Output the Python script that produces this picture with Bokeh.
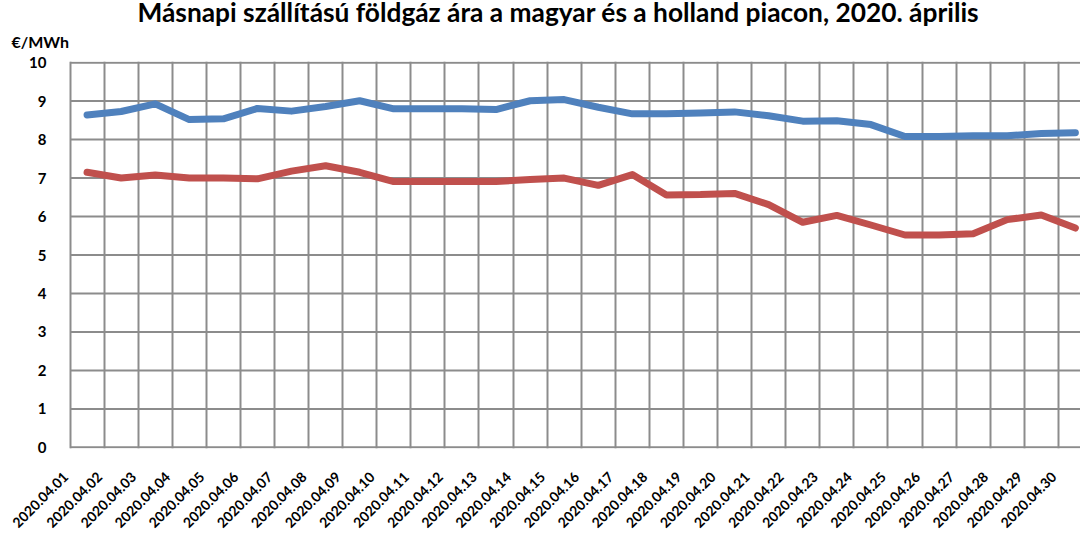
import math
from bokeh.plotting import figure
from bokeh.models import Range1d, FixedTicker, Title, Legend, LegendItem, ColumnDataSource
from bokeh.embed import file_html
from bokeh.resources import INLINE

days = ["2020.04.01", "2020.04.02", "2020.04.03", "2020.04.04", "2020.04.05",
        "2020.04.06", "2020.04.07", "2020.04.08", "2020.04.09", "2020.04.10",
        "2020.04.11", "2020.04.12", "2020.04.13", "2020.04.14", "2020.04.15",
        "2020.04.16", "2020.04.17", "2020.04.18", "2020.04.19", "2020.04.20",
        "2020.04.21", "2020.04.22", "2020.04.23", "2020.04.24", "2020.04.25",
        "2020.04.26", "2020.04.27", "2020.04.28", "2020.04.29", "2020.04.30"]

ceegex = [8.64, 8.73, 8.93, 8.52, 8.54, 8.81, 8.74, 8.86, 9.01, 8.80,
          8.80, 8.80, 8.78, 9.01, 9.04, 8.84, 8.67, 8.67, 8.69, 8.72,
          8.62, 8.48, 8.49, 8.39, 8.08, 8.08, 8.10, 8.10, 8.16, 8.18]

ttf = [7.15, 7.00, 7.08, 7.00, 7.00, 6.98, 7.18, 7.32, 7.15, 6.91,
       6.91, 6.91, 6.91, 6.96, 7.00, 6.81, 7.09, 6.56, 6.57, 6.60,
       6.31, 5.85, 6.03, 5.78, 5.52, 5.52, 5.55, 5.92, 6.04, 5.70]

y_ticks = [0, 1, 2, 3, 4, 5, 6, 7, 8, 9, 10]

title_text = "Másnapi szállítású földgáz ára a magyar és a holland piacon, 2020. április"
unit_text = "€/MWh"
name_ceegex = "Hazai másnapi piaci átlagár (CEEGEX)"
name_ttf = "Holland másnapi piaci átlagár (TTF)"

FONT = "Lato"
GRID = "#8c8c8c"
BLUE = "#4f81bd"
RED = "#c0504d"

idx = list(range(len(days)))
src = ColumnDataSource(dict(x=idx, a=ceegex, b=ttf))

X0, X1 = -0.75, 29.15
p = figure(frame_width=1019, frame_height=387, output_backend="svg",
           toolbar_location=None,
           x_range=Range1d(X0, X1), y_range=Range1d(-0.03, 10.03),
           min_border_left=61, min_border_right=0, min_border_top=61,
           min_border_bottom=0)
p.outline_line_color = None
p.background_fill_color = "white"
p.border_fill_color = "white"

# plot-area grid: vertical category boundaries + horizontal value lines
p.xgrid.ticker = FixedTicker(ticks=[i - 0.5 for i in idx] + [idx[-1] + 0.5])
p.xgrid.grid_line_color = GRID
p.xgrid.grid_line_width = 2
p.ygrid.grid_line_color = None
p.segment(x0=[-0.5] * len(y_ticks), x1=[X1 + 1] * len(y_ticks),
          y0=y_ticks, y1=y_ticks, line_color=GRID, line_width=2)

r1 = p.line("x", "a", source=src, line_color=BLUE, line_width=7,
            line_cap="round", line_join="round")
r2 = p.line("x", "b", source=src, line_color=RED, line_width=7,
            line_cap="round", line_join="round")

# x axis: rotated labels whose upper-right end sits at the category centre
shift = 0.63
label_pos = [round(i - shift, 2) for i in idx]
xa = p.xaxis[0]
xa.ticker = FixedTicker(ticks=label_pos)
xa.major_label_overrides = {pos: d for pos, d in zip(label_pos, days)}
xa.major_label_orientation = math.pi / 4
xa.major_label_text_font = FONT
xa.major_label_text_font_style = "bold"
xa.major_label_text_font_size = "14px"
xa.major_label_text_color = "black"
xa.major_tick_line_color = None
xa.minor_tick_line_color = None
xa.axis_line_color = None
xa.major_label_standoff = 20

ya = p.yaxis[0]
ya.ticker = FixedTicker(ticks=y_ticks)
ya.major_label_text_font = FONT
ya.major_label_text_font_style = "bold"
ya.major_label_text_font_size = "15px"
ya.major_label_text_color = "black"
ya.major_tick_line_color = None
ya.minor_tick_line_color = None
ya.axis_line_color = None
ya.major_label_standoff = 9

p.add_layout(Title(text=unit_text, align="left", offset=-50, standoff=21,
                   text_font=FONT, text_font_style="bold", text_font_size="16px",
                   text_color="black"), "above")
p.add_layout(Title(text=title_text, align="left", offset=76, standoff=-16,
                   text_font=FONT, text_font_style="bold", text_font_size="26.3px",
                   text_color="black"), "above")

legend = Legend(items=[LegendItem(label=name_ceegex, renderers=[r1]),
                       LegendItem(label=name_ttf + "\u00a0" * 13, renderers=[r2])],
                orientation="horizontal", location="center",
                padding=0, margin=0, spacing=66, label_standoff=3,
                glyph_width=33, glyph_height=16, label_height=16,
                border_line_color=None, background_fill_alpha=0,
                label_text_font=FONT, label_text_font_style="bold",
                label_text_font_size="16.5px", label_text_color="black")
p.add_layout(legend, "below")

open("out.html", "w").write(file_html(p, INLINE))
